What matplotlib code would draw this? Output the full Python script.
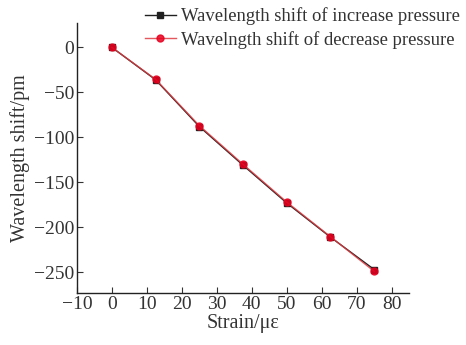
import matplotlib
matplotlib.use("Agg")
import matplotlib.pyplot as plt

plt.rcParams['font.family'] = ['Liberation Serif', 'DejaVu Serif']

strain = [0, 12.5, 25, 37.5, 50, 62.5, 75]
shift_increase = [0, -36, -88, -131, -173, -211, -247]
shift_decrease = [0, -35.5, -87, -130, -172, -210.5, -249]

x_ticks = [-10, 0, 10, 20, 30, 40, 50, 60, 70, 80]
y_ticks = [0, -50, -100, -150, -200, -250]

fig = plt.figure(figsize=(4.66, 3.45), dpi=100)
ax = fig.add_axes([0.165, 0.151, 0.713, 0.782])

ax.plot(strain, shift_increase, color='#202020', marker='s', markersize=4,
        linewidth=1.0, label='Wavelength shift of increase pressure')
ax.plot(strain, shift_decrease, color='#e03a40', marker='o', markersize=5,
        linewidth=1.0, alpha=0.85, markerfacecolor='#e8001e', markeredgecolor='#e8001e',
        label='Wavelngth shift of decrease pressure')

ax.set_xlim(-10, 85)
ax.set_ylim(-273, 27)
ax.set_xticks(x_ticks)
ax.set_yticks(y_ticks)
ax.set_xticklabels(['\u221210' if t < 0 else str(t) for t in x_ticks])
ax.set_yticklabels(['\u2212' + str(-t) if t < 0 else str(t) for t in y_ticks])

for s in ['top', 'right']:
    ax.spines[s].set_visible(False)
for s in ['left', 'bottom']:
    ax.spines[s].set_linewidth(1.0)
    ax.spines[s].set_color('#222222')

ax.tick_params(direction='in', length=4, width=0.8, labelsize=14, colors='#333333', pad=2)

ax.set_xlabel('Strain/\u03bc\u03b5', fontsize=14.5, labelpad=1, color='#333333')
ax.set_ylabel('Wavelength shift/pm', fontsize=14.5, labelpad=3, color='#333333')

leg = ax.legend(loc='upper left', bbox_to_anchor=(0.311, 0.978), bbox_transform=fig.transFigure,
                frameon=False, fontsize=13.4, handlelength=1.65, handletextpad=0.3,
                labelspacing=0.3, borderaxespad=0, borderpad=0)
for t in leg.get_texts():
    t.set_color('#333333')

fig.savefig('out.png', dpi=100)
